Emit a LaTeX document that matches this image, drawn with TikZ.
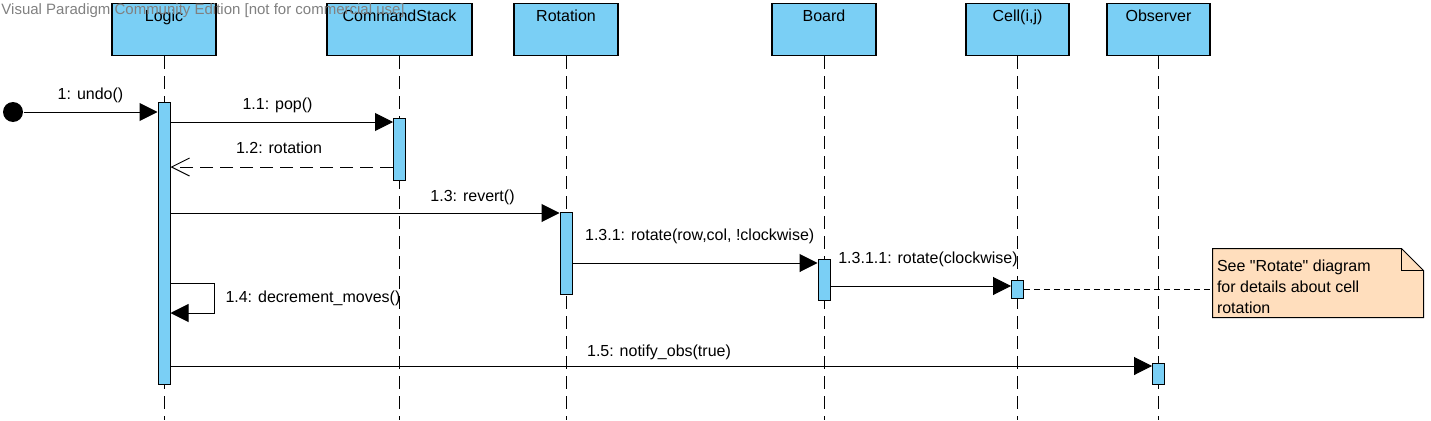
\documentclass[tikz,border=0pt]{standalone}
\usepackage{fontspec}
\setmainfont{Liberation Sans}
\usetikzlibrary{arrows.meta}
\definecolor{vpblue}{RGB}{122,207,245}
\definecolor{vpnote}{RGB}{255,222,189}
\definecolor{vpgray}{RGB}{128,128,128}

\begin{document}
\begin{tikzpicture}[
    x=1pt, y=-1pt,
    font=\fontsize{16}{21}\selectfont,
    line width=1pt,
    head/.style={draw, line width=1.2pt, fill=vpblue, anchor=north, minimum width=104pt, inner xsep=0pt, inner ysep=0pt, text height=18pt, text depth=34pt},
    act/.style={draw, fill=vpblue, anchor=north, minimum width=12pt, inner sep=0pt},
    life/.style={dash pattern=on 13pt off 7pt},
    msg/.style={-{Triangle[length=18pt, width=18pt]}},
    ret/.style={dash pattern=on 13pt off 7pt, -{Straight Barb[length=18pt, width=18pt]}},
    lbl/.style={anchor=base, inner sep=0pt}
  ]
    \useasboundingbox (0,0) rectangle (1431,420);

    \node[head] (logic) at (164,3) {Logic};
    \node[head, minimum width=145pt] (stack) at (399.5,3) {CommandStack};
    \node[head] (rotation) at (566,3) {Rotation};
    \node[head] (board) at (824,3) {Board};
    \node[head, minimum width=103pt] (cell) at (1017.5,3) {Cell(i,j)};
    \node[head, minimum width=103pt] (observer) at (1158.5,3) {Observer};

    \coordinate (bottom) at (0,420);
    \foreach \l in {logic,stack,rotation,board,cell,observer}
      \draw[life] (\l.south) -- (\l.south |- bottom);

    \node[act, minimum height=282pt] (logicact) at (logic.south |- 0,102) {};
    \node[act, minimum height=62pt] (stackact) at (stack.south |- 0,118) {};
    \node[act, minimum height=82pt] (rotationact) at (rotation.south |- 0,212) {};
    \node[act, minimum height=41pt] (boardact) at (board.south |- 0,259) {};
    \node[act, minimum height=18pt] (cellact) at (cell.south |- 0,280) {};
    \node[act, minimum height=21pt] (observeract) at (observer.south |- 0,363) {};

    \node[circle, fill, minimum size=20pt, inner sep=0pt] (start) at (13,112) {};
    \draw[msg] (start) -- (start -| logicact.west);

    \coordinate (pop) at ([yshift=-4pt]stackact.north west);
    \coordinate (back) at ([yshift=14pt]stackact.south west);
    \coordinate (revert) at ([yshift=-1pt]rotationact.north west);
    \coordinate (rot) at ([yshift=-4pt]boardact.north west);
    \coordinate (rotcell) at ([yshift=-6pt]cellact.north west);
    \coordinate (decr) at ([yshift=-181pt]logicact.north east);
    \coordinate (notify) at ([yshift=-3pt]observeract.north west);

    \draw[msg] (logicact.east |- pop) -- (pop);
    \draw[ret] (back) -- (logicact.east |- back);
    \draw[msg] (logicact.east |- revert) -- (revert);
    \draw[msg] (rotationact.east |- rot) -- (rot);
    \draw[msg] (boardact.east |- rotcell) -- (rotcell);
    \draw[msg] (decr) -- ++(44,0) |- ([yshift=-30pt]decr);
    \draw[msg] (logicact.east |- notify) -- (notify);

    \node[minimum width=210pt, minimum height=68pt, inner sep=0pt] (note) at (1318,283) {};
    \draw[fill=vpnote] (note.north west) -- ([xshift=-22pt]note.north east) -- ([yshift=-22pt]note.north east) -- (note.south east) -- (note.south west) -- cycle;
    \draw ([xshift=-22pt]note.north east) |- ([yshift=-22pt]note.north east);
    \node[anchor=north west, align=left, inner sep=0pt] (notetext) at ([xshift=4pt, yshift=-11.4pt]note.north west) {See \textquotedbl Rotate\textquotedbl{} diagram\\for details about cell\\rotation};
    \draw[dash pattern=on 6pt off 4pt] (cellact.east) -- (cellact.east -| note.west);

    \node[lbl] (undolbl) at (90.5,99) {1: undo()};
    \node[lbl] (poplbl) at (277.5,109.5) {1.1: pop()};
    \node[lbl] (backlbl) at (279,153) {1.2: rotation};
    \node[lbl] (revertlbl) at (472.5,201.5) {1.3: revert()};
    \node[lbl] (rotlbl) at (699.7,240) {1.3.1: rotate(row,col, !clockwise)};
    \node[lbl] (rotcelllbl) at (928,263) {1.3.1.1: rotate(clockwise)};
    \node[lbl, anchor=base west] (decrlbl) at (225,302.5) {1.4: decrement\_moves()};
    \node[lbl] (notifylbl) at (659,356.5) {1.5: notify\_obs(true)};

    \node[anchor=base west, inner sep=0pt, text=vpgray, font=\fontsize{15}{18}\selectfont] (watermark) at (1,15) {Visual Paradigm Community Edition [not for commercial use]};
  \end{tikzpicture}
\end{document}
